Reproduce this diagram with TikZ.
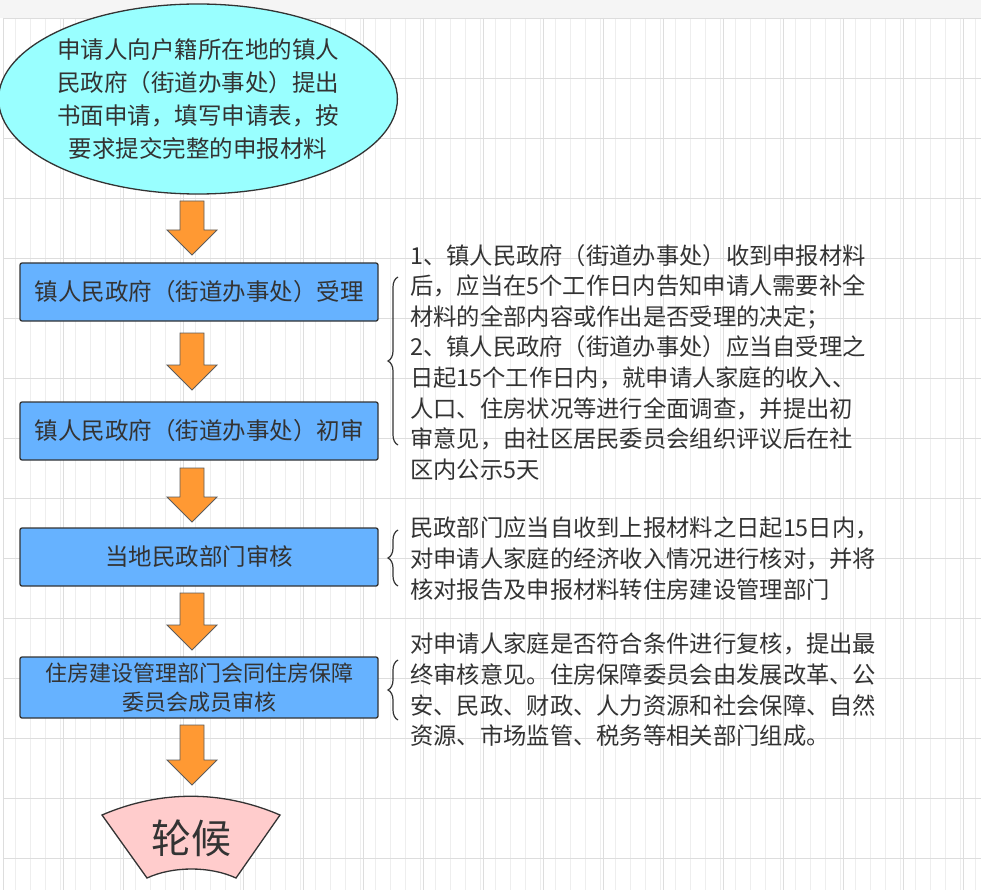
\documentclass[tikz,border=0pt]{standalone}
\usepackage{fontspec}
\setmainfont{Noto Sans CJK SC}
\usetikzlibrary{shapes.geometric,decorations.pathreplacing}
\definecolor{gmin}{HTML}{EEEEEE}
\definecolor{gmaj}{HTML}{DDDDDD}
\definecolor{boxb}{HTML}{66B2FF}
\definecolor{cyanf}{HTML}{99FFFF}
\definecolor{orangef}{HTML}{FF9933}
\definecolor{pinkf}{HTML}{FFCCCC}
\definecolor{txt}{HTML}{333333}
\tikzset{
  stepbox/.style={draw=txt,line width=1.3pt,fill=boxb,rounded corners=2pt,minimum width=358pt,minimum height=58pt,align=center,font=\fontsize{23.5}{28}\selectfont,text=txt},
  arr/.style={fill=orangef,draw=txt!80,line width=0.8pt},
  brc/.style={decorate,decoration={brace,amplitude=10pt},draw=txt,line width=1.2pt},
  note/.style={anchor=north west,align=left,font=\fontsize{23.3}{30.6}\selectfont,text=txt,inner sep=0pt}
}
\newcommand{\blockarrow}[3]{% x, ytop, ybottom
  \draw[arr] (#1-12,#2) -- (#1+12,#2) -- (#1+12,#3-25) -- (#1+25,#3-25) -- (#1,#3) -- (#1-25,#3-25) -- (#1-12,#3-25) -- cycle;}
\begin{document}
\begin{tikzpicture}[x=1pt,y=-1pt]
\useasboundingbox (0,0) rectangle (981,890);
\fill[white] (0,0) rectangle (981,890);
\fill[gray!8] (0,0) rectangle (981,18);
\draw[gmin,line width=0.6pt] (3,18) grid[step=15] (981,890);
\foreach \x in {3,63,...,981} \draw[gmaj,line width=0.8pt] (\x,18) -- (\x,890);
\foreach \y in {18,78,...,890} \draw[gmaj,line width=0.8pt] (3,\y) -- (981,\y);
\node[ellipse,draw=txt,line width=1.3pt,fill=cyanf,minimum width=320pt,minimum height=190pt,inner sep=0pt,align=center,font=\fontsize{23.5}{33}\selectfont,text=txt] (start) at (198,99) {申请人向户籍所在地的镇人\\民政府（街道办事处）提出\\书面申请，填写申请表，按\\要求提交完整的申报材料};
\node[stepbox] (b1) at (199,292) {镇人民政府（街道办事处）受理};
\node[stepbox] (b2) at (199,431) {镇人民政府（街道办事处）初审};
\node[stepbox] (b3) at (199,557) {当地民政部门审核};
\node[stepbox,minimum height=61pt,font=\fontsize{22}{29}\selectfont] (b4) at (199,687.5) {住房建设管理部门会同住房保障\\委员会成员审核};
\blockarrow{192}{201}{255}
\blockarrow{192}{333}{390}
\blockarrow{192}{468}{522}
\blockarrow{192}{593}{650}
\blockarrow{192}{725}{785}
\draw[txt,line width=1.3pt,fill=pinkf] (102,815) .. controls (160,790) and (222,790) .. (280,815) -- (236,878) .. controls (210,866) and (173,866) .. (147,878) -- cycle;
\node[font=\fontsize{40}{44}\selectfont,text=txt] (end) at (191,838) {轮候};
\coordinate (t1) at (398,277); \coordinate (u1) at (398,445);
\draw[brc] (u1) -- (t1);
\coordinate (t2) at (398,530); \coordinate (u2) at (398,586);
\draw[brc] (u2) -- (t2);
\coordinate (t3) at (398,660); \coordinate (u3) at (398,720);
\draw[brc] (u3) -- (t3);
\node[note] (n1) at (410,244) {1、镇人民政府（街道办事处）收到申报材料\\后，应当在5个工作日内告知申请人需要补全\\材料的全部内容或作出是否受理的决定；\\2、镇人民政府（街道办事处）应当自受理之\\日起15个工作日内，就申请人家庭的收入、\\人口、住房状况等进行全面调查，并提出初\\审意见，由社区居民委员会组织评议后在社\\区内公示5天};
\node[note] (n2) at (410,517) {民政部门应当自收到上报材料之日起15日内，\\对申请人家庭的经济收入情况进行核对，并将\\核对报告及申报材料转住房建设管理部门};
\node[note] (n3) at (410,633) {对申请人家庭是否符合条件进行复核，提出最\\终审核意见。住房保障委员会由发展改革、公\\安、民政、财政、人力资源和社会保障、自然\\资源、市场监管、税务等相关部门组成。};
\end{tikzpicture}
\end{document}
